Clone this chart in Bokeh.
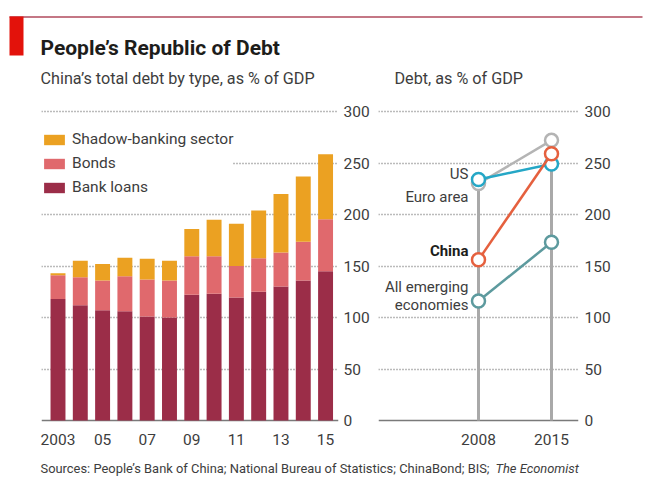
from bokeh.plotting import figure
from bokeh.layouts import column, row
from bokeh.models import (Range1d, FixedTicker, LinearAxis, Legend, LegendItem,
                          ColumnDataSource, Grid, BoxAnnotation)
from bokeh.core.properties import value
from bokeh.embed import file_html
from bokeh.resources import INLINE

FONT = "Roboto"

# ---------------- data ----------------
years = [2003, 2004, 2005, 2006, 2007, 2008, 2009, 2010, 2011, 2012, 2013, 2014, 2015]
bank_loans = [118, 112, 107, 106, 101, 100, 122, 123, 119.5, 125, 130, 136, 145]
bonds = [23, 27, 29, 34, 36, 36, 37.5, 36.5, 30.5, 32.5, 33, 37.5, 50.5]
shadow_banking = [2, 16, 16, 18, 20, 19, 26.5, 35.5, 41, 46.5, 57, 63.5, 63]
year_ticks = [2003, 2005, 2007, 2009, 2011, 2013, 2015]
year_tick_labels = ["2003", "05", "07", "09", "11", "13", "15"]
value_ticks = [0, 50, 100, 150, 200, 250, 300]

cmp_years = [2008, 2015]
us = [234, 249]
euro_area = [230, 272]
china = [156, 259]
emerging = [116, 173]

# ---------------- styles ----------------
TXT = "#3d3d3d"
DARK = "#1d1d1b"
C_BANK = "#9b2d48"
C_BOND = "#e0696d"
C_SHADOW = "#eba122"
C_US = "#25a7c6"
C_EURO = "#b4b4b4"
C_CHINA = "#e5603e"
C_EM = "#5d9a9e"
C_VLINE = "#a9a9a9"
GRID = "#777777"
TICK_SIZE = "15.5px"


def base_fig(**kw):
    return figure(toolbar_location=None, output_backend="svg",
                  outline_line_color=None, background_fill_color="white",
                  border_fill_color="white", **kw)


def style_axes(p):
    for ax in p.axis:
        ax.axis_line_color = None
        ax.major_tick_line_color = None
        ax.minor_tick_line_color = None
        ax.major_tick_out = 0
        ax.major_tick_in = 0
        ax.major_label_text_font = FONT
        ax.major_label_text_font_size = TICK_SIZE
        ax.major_label_text_color = TXT


def style_grid(p, bounds="auto"):
    p.xgrid.visible = False
    p.ygrid.ticker = FixedTicker(ticks=value_ticks[1:])
    p.ygrid.grid_line_color = GRID
    p.ygrid.grid_line_dash = "1 2"
    p.ygrid.grid_line_width = 1.5
    p.ygrid.bounds = bounds
    base = Grid(dimension=1, ticker=FixedTicker(ticks=value_ticks[:1]),
                grid_line_color="#7a7a7a", grid_line_width=1.5, bounds=bounds)
    p.add_layout(base)


# ---------------- header ----------------
hdr = base_fig(width=660, height=90, x_range=Range1d(0, 660), y_range=Range1d(90, 0),
               x_axis_location=None, y_axis_location=None, min_border=0)
hdr.grid.visible = False
hdr.add_layout(BoxAnnotation(left=9, right=23, top=16, bottom=55,
                             fill_color="#e3120b", fill_alpha=1, line_color=None))
hdr.segment(x0=[9], y0=[16.5], x1=[642], y1=[16.5], line_color="#b04a5c", line_width=1.5)
hdr.text(x=[40], y=[47.5], text=["People\u2019s Republic of Debt"], text_font=value(FONT),
         text_font_size="21px", text_font_style="bold", text_color=DARK,
         text_baseline="middle")
hdr.text(x=[40, 394], y=[77.5, 77.5],
         text=["China\u2019s total debt by type, as % of GDP", "Debt, as % of GDP"],
         text_font=value(FONT), text_font_size="16.2px", text_color=TXT,
         text_baseline="middle")

# ---------------- left: stacked bars ----------------
left = base_fig(width=378, height=362, x_range=Range1d(2002.26, 2015.58),
                y_range=Range1d(-1.94, 310.68), y_axis_location=None,
                min_border_left=41, min_border_right=40, min_border_top=10,
                min_border_bottom=30)
style_grid(left)
src = ColumnDataSource(dict(year=years, bank=bank_loans, bonds=bonds, shadow=shadow_banking))
rs = left.vbar_stack(["bank", "bonds", "shadow"], x="year", width=0.67,
                     color=[C_BANK, C_BOND, C_SHADOW], line_color=None, source=src)
left.xaxis.ticker = FixedTicker(ticks=year_ticks)
left.xaxis.major_label_overrides = {t: l for t, l in zip(year_ticks, year_tick_labels)}
left.xaxis.major_label_standoff = 11
ax_l = LinearAxis(ticker=FixedTicker(ticks=value_ticks), major_label_standoff=5)
left.add_layout(ax_l, "right")
style_axes(left)

legend = Legend(items=[LegendItem(label="Shadow-banking sector", renderers=[rs[2]]),
                       LegendItem(label="Bonds", renderers=[rs[1]]),
                       LegendItem(label="Bank loans", renderers=[rs[0]])],
                location=(0, 226), padding=0, margin=0, spacing=6,
                glyph_width=26, glyph_height=13, label_height=13, label_standoff=5,
                label_text_font=FONT, label_text_font_size="15.5px",
                label_text_color=TXT, border_line_color=None,
                background_fill_color="white", background_fill_alpha=1)
left.add_layout(legend)

# ---------------- right: slope chart ----------------
right = base_fig(width=282, height=362, x_range=Range1d(1998.411, 2017.589),
                 y_range=Range1d(-1.94, 310.68), y_axis_location=None,
                 min_border_left=0, min_border_right=82, min_border_top=10,
                 min_border_bottom=30)
style_grid(right, bounds=(2000.041, 2017.589))
tops = [max(v) for v in zip(us, euro_area, china, emerging)]
right.segment(x0=cmp_years, y0=[0, 0], x1=cmp_years, y1=tops,
              line_color=C_VLINE, line_width=3)
for vals, col in [(euro_area, C_EURO), (emerging, C_EM), (us, C_US), (china, C_CHINA)]:
    right.line(cmp_years, vals, line_color=col, line_width=2.5)
    right.scatter(cmp_years, vals, size=13, fill_color="white", line_color=col,
                  line_width=2.5)

label_text = ["US", "Euro area", "All emerging", "economies"]
label_y = [239.8, 216.8, 129.4, 111.7]
right.text(x=[cmp_years[0]] * len(label_text), y=label_y, text=label_text,
           x_offset=-10, text_align="right", text_baseline="middle",
           text_font=value(FONT), text_font_size="15px", text_color=TXT)
right.text(x=[cmp_years[0]], y=[165], text=["China"], x_offset=-10,
           text_align="right", text_baseline="middle", text_font=value(FONT),
           text_font_size="15px", text_font_style="bold", text_color=DARK)

right.xaxis.ticker = FixedTicker(ticks=cmp_years)
right.xaxis.major_label_standoff = 11
ax_r = LinearAxis(ticker=FixedTicker(ticks=value_ticks), major_label_standoff=6)
right.add_layout(ax_r, "right")
style_axes(right)

# ---------------- footer ----------------
ftr = base_fig(width=660, height=30, x_range=Range1d(0, 660), y_range=Range1d(30, 0),
               x_axis_location=None, y_axis_location=None, min_border=0)
ftr.grid.visible = False
ftr.text(x=[40], y=[15.5],
         text=["Sources: People\u2019s Bank of China; National Bureau of Statistics; ChinaBond; BIS;"],
         text_font=value(FONT), text_font_size="12.9px", text_color=TXT,
         text_baseline="middle")
ftr.text(x=[495], y=[15.5], text=["The Economist"], text_font=value(FONT),
         text_font_size="12.9px", text_font_style="italic", text_color=TXT,
         text_baseline="middle")

layout = column(hdr, row(left, right), ftr)
open("out.html", "w").write(file_html(layout, INLINE))
